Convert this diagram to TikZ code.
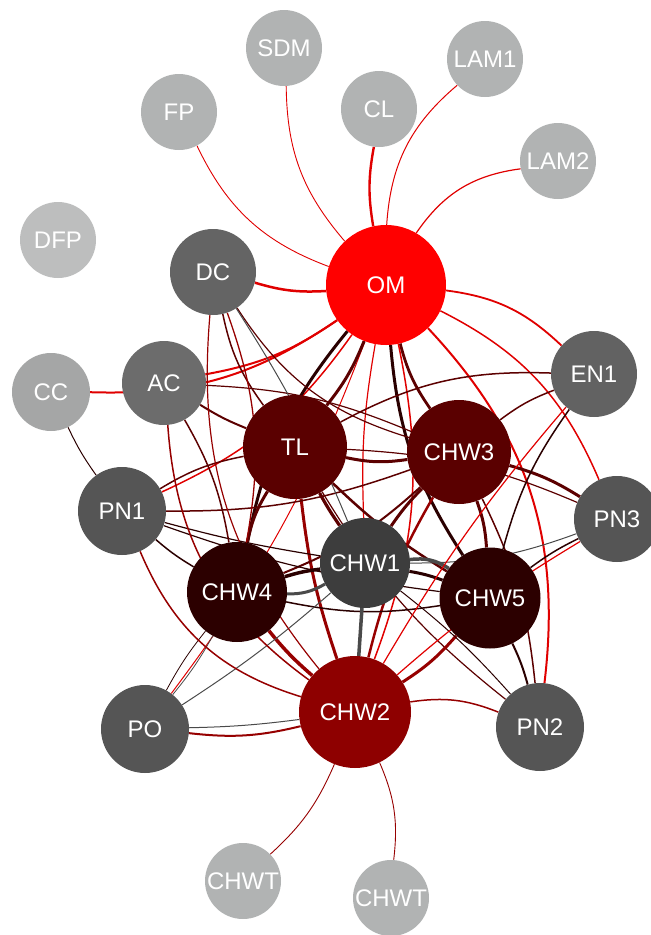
\documentclass[tikz,border=0pt]{standalone}
\usepackage{fontspec}
\setmainfont{Liberation Sans}
\usetikzlibrary{backgrounds}
\definecolor{cLeaf}{HTML}{B1B3B3}
\definecolor{cMid}{HTML}{646464}
\definecolor{cGr}{HTML}{555555}
\definecolor{cOM}{HTML}{FF0000}
\definecolor{cCHWtwo}{HTML}{8E0000}
\definecolor{cTL}{HTML}{5A0000}
\definecolor{cDeep}{HTML}{2C0000}
\definecolor{cOne}{HTML}{3D3D3D}
\definecolor{eRc}{HTML}{E00000}
\definecolor{eMc}{HTML}{960000}
\definecolor{eDc}{HTML}{5C0000}
\definecolor{eBc}{HTML}{2A0000}
\definecolor{eGc}{HTML}{4A4A4A}
\begin{document}
\begin{tikzpicture}[x=1pt,y=1pt,
  nd/.style={circle,inner sep=0pt,text=white,font=\fontsize{24}{24}\selectfont},
  leaf/.style={nd,fill=cLeaf,minimum size=76pt},
  mid/.style={nd,fill=cMid,minimum size=#1},
  gr/.style={nd,fill=cGr,minimum size=88pt},
  eR/.style={draw=eRc},
  eM/.style={draw=eMc},
  eD/.style={draw=eDc},
  eB/.style={draw=eBc},
  eG/.style={draw=eGc}]
\useasboundingbox (0,0) rectangle (651,-935);
% nodes
\node[leaf] (SDM) at (284,-48) {SDM};
\node[leaf] (LAM1) at (485,-59) {LAM1};
\node[leaf] (FP) at (179,-112) {FP};
\node[leaf] (CL) at (379,-109) {CL};
\node[leaf] (LAM2) at (558,-161) {LAM2};
\node[leaf,fill=cLeaf!85!white] (DFP) at (58,-240) {DFP};
\node[nd,fill=cOM,minimum size=120pt] (OM) at (386,-285) {OM};
\node[mid=86pt] (DC) at (213,-272) {DC};
\node[mid=84pt,fill=cMid!95!white] (AC) at (164,-383) {AC};
\node[leaf,fill=cLeaf!93!black,minimum size=78pt] (CC) at (51,-392) {CC};
\node[gr,fill=cMid!85!cGr,minimum size=86pt] (EN1) at (594,-374) {EN1};
\node[nd,fill=cTL,minimum size=104pt] (TL) at (295,-447) {TL};
\node[nd,fill=cTL,minimum size=104pt] (CHW3) at (459,-452) {CHW3};
\node[gr] (PN1) at (122,-511) {PN1};
\node[gr,minimum size=86pt] (PN3) at (617,-519) {PN3};
\node[nd,fill=cOne,minimum size=90pt] (CHW1) at (365,-563) {CHW1};
\node[nd,fill=cDeep,minimum size=100pt] (CHW4) at (237,-592) {CHW4};
\node[nd,fill=cDeep,minimum size=101pt] (CHW5) at (490,-598) {CHW5};
\node[gr] (PO) at (145,-729) {PO};
\node[nd,fill=cCHWtwo,minimum size=112pt] (CHW2) at (355,-712) {CHW2};
\node[gr] (PN2) at (540,-727) {PN2};
\node[leaf] (CHWTa) at (243,-881) {CHWT};
\node[leaf] (CHWTb) at (391,-898) {CHWT};
\begin{scope}[on background layer]
% leaves to OM
\draw[eR,line width=0.9] (SDM) to[bend right=20] (OM);
\draw[eR,line width=0.9] (FP) to[bend right=22] (OM);
\draw[eR,line width=2.4] (CL) to[bend right=10] (OM);
\draw[eR,line width=1.0] (LAM1) to[bend right=23] (OM);
\draw[eR,line width=1.2] (LAM2) to[bend right=24] (OM);
\draw[eR,line width=2.5] (DC) to[bend right=10] (OM);
\draw[eR,line width=2] (AC) to[bend right=12] (OM);
\draw[eR,line width=2] (CC) to[bend right=18] (OM);
\draw[eR,line width=1.8] (EN1) to[bend right=18] (OM);
\draw[eR,line width=1.5] (PN3) to[bend right=20] (OM);
\draw[eR,line width=2] (PN2) to[bend right=25] (OM);
\draw[eR,line width=1.5] (PN1) to[bend right=15] (OM);
\draw[eR,line width=1] (PO) to[bend right=8] (OM);
\draw[eM,line width=0.9] (CHWTa) to[bend right=12] (CHW2);
\draw[eM,line width=0.9] (CHWTb) to[bend right=15] (CHW2);
\draw[eB,line width=1] (CC) to[bend right=5] (PN1);
% OM inner
\draw[eD,line width=3] (TL) to[bend right=8] (OM);
\draw[eD,line width=2.8] (OM) to[bend right=10] (CHW3);
\draw[eB,line width=3] (OM) to[bend right=14] (CHW5);
\draw[eB,line width=3] (OM) to[bend right=14] (CHW4);
\draw[eR,line width=1.2] (OM) to[bend right=6] (CHW1);
\draw[eR,line width=1.5] (CHW2) to[bend right=16] (OM);
% TL
\draw[eD,line width=3] (TL) to[bend right=10] (CHW3);
\draw[eD,line width=1.5] (EN1) to[bend right=15] (TL);
\draw[eD,line width=3.2] (TL) to[bend right=3] (CHW1);
\draw[eD,line width=3] (TL) to[bend right=10] (CHW4);
\draw[eD,line width=2.5] (TL) to[bend right=6] (CHW5);
\draw[eM,line width=3] (TL) to[bend right=6] (CHW2);
\draw[eD,line width=1.5] (PN1) to[bend left=10] (TL);
\draw[eD,line width=2] (AC) to[bend right=5] (TL);
\draw[eD,line width=1.5] (DC) to[bend right=12] (TL);
\draw[eD,line width=1.2] (TL) to[bend left=10] (PN3);
\draw[eD,line width=1.2] (TL) to[bend right=10] (PN2);
% CHW3
\draw[eD,line width=3] (CHW3) to[bend left=8] (PN3);
\draw[eD,line width=1.5] (EN1) to[bend right=8] (CHW3);
\draw[eD,line width=3] (CHW3) to[bend right=5] (CHW1);
\draw[eD,line width=3] (CHW3) to[bend left=8] (CHW5);
\draw[eD,line width=2] (CHW3) to[bend left=10] (CHW4);
\draw[eM,line width=2.5] (CHW3) to[bend right=8] (CHW2);
\draw[eD,line width=1.5] (PN1) to[bend right=10] (CHW3);
\draw[eD,line width=1.5] (CHW3) to[bend left=10] (PN2);
\draw[eD,line width=1.2] (DC) to[bend right=20] (CHW3);
\draw[eD,line width=1.2] (AC) to[bend left=10] (CHW3);
% CHW4
\draw[eB,line width=3.5] (CHW4) to[bend left=5] (CHW1);
\draw[eG,line width=3] (CHW1) to[bend left=15] (CHW4);
\draw[eB,line width=1.5] (CHW4) to[bend right=10] (CHW5);
\draw[eM,line width=3.5] (CHW4) to[bend right=5] (CHW2);
\draw[eB,line width=1.5] (PN1) to[bend right=5] (CHW4);
\draw[eB,line width=1.2] (PN1) to[bend right=3] (CHW1);
\draw[eB,line width=0.8] (PO) to[bend left=5] (CHW4);
\draw[eG,line width=0.8] (PO) to[bend right=5] (CHW4);
\draw[eD,line width=1.5] (AC) to[bend left=10] (CHW4);
\draw[eM,line width=1.3] (DC) to[bend left=15] (CHW4);
% CHW5
\draw[eB,line width=3] (CHW1) to[bend left=5] (CHW5);
\draw[eG,line width=3.5] (CHW1) to[bend left=20] (CHW5);
\draw[eM,line width=3] (CHW5) to[bend left=8] (CHW2);
\draw[eB,line width=2] (CHW5) to[bend left=5] (PN2);
\draw[eB,line width=1.5] (PN3) to[bend right=5] (CHW5);
\draw[eB,line width=1.5] (EN1) to[bend right=10] (CHW5);
\draw[eB,line width=1.2] (PN1) to[bend right=6] (CHW5);
% CHW1
\draw[eG,line width=3.5] (CHW1) to (CHW2);
\draw[eB,line width=1] (CHW1) to[bend left=5] (PN2);
\draw[eG,line width=1] (DC) to[bend left=5] (CHW1);
\draw[eG,line width=1] (CHW1) to[bend right=10] (PN3);
\draw[eG,line width=1] (PO) to[bend right=4] (CHW1);
% CHW2
\draw[eM,line width=1.5] (CHW2) to[bend left=15] (PN2);
\draw[eM,line width=2] (PO) to[bend right=10] (CHW2);
\draw[eG,line width=1] (PO) to[bend right=3] (CHW2);
\draw[eM,line width=1.5] (PN1) to[bend right=25] (CHW2);
\draw[eM,line width=1.5] (AC) to[bend right=25] (CHW2);
\draw[eM,line width=1.2] (DC) to[bend right=22] (CHW2);
\draw[eR,line width=1.2] (EN1) to[bend right=5] (CHW2);
\draw[eR,line width=1.2] (PN3) to[bend right=5] (CHW2);
\end{scope}
\end{tikzpicture}
\end{document}
